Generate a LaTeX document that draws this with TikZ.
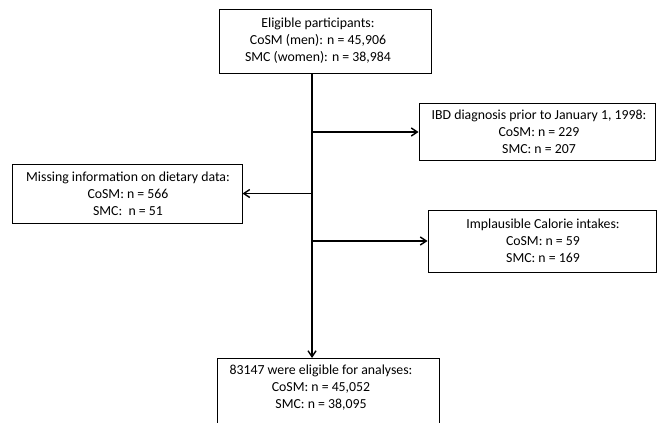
\documentclass[tikz,border=0pt]{standalone}
\usepackage{fontspec}
\setmainfont{Carlito}
\usetikzlibrary{arrows.meta}
\begin{document}
\begin{tikzpicture}[x=1pt,y=-1pt,
  box/.style={draw=black,line width=1pt,fill=white,inner sep=0pt},
  txt/.style={align=center,inner sep=0pt,font=\fontsize{13.8}{16.8}\selectfont},
  arr/.style={line width=1.6pt,-{Straight Barb[length=6pt,width=8pt,line width=1.4pt]}}]
\useasboundingbox (0,0) rectangle (657,423);
\clip (0,0) rectangle (657,423);
% boxes
\node[box,minimum width=212pt,minimum height=64pt] (top) at (325,41) {};
\node[box,minimum width=236pt,minimum height=57pt] (ibd) at (537,132) {};
\node[box,minimum width=230pt,minimum height=59pt] (miss) at (127,193.5) {};
\node[box,minimum width=228pt,minimum height=62pt] (impl) at (542,241) {};
\node[box,minimum width=222pt,minimum height=73pt] (fin) at (328,395) {};
% texts
\node[txt] (toptxt) at (318,40.5) {Eligible participants:\\CoSM (men): n = 45,906\\SMC (women): n = 38,984};
\node[txt] (ibdtxt) at (539,132) {IBD diagnosis prior to January 1, 1998:\\CoSM: n = 229\\SMC: n = 207};
\node[txt] (misstxt) at (128,194) {Missing information on dietary data:\\CoSM: n = 566\\SMC:\ \ n = 51};
\node[txt] (impltxt) at (543,241) {Implausible Calorie intakes:\\CoSM: n = 59\\SMC: n = 169};
\node[txt,anchor=north] (fintxt) at (321,365) {83147 were eligible for analyses:\\CoSM: n = 45,052\\SMC: n = 38,095};
\coordinate (trunk) at (312,0);
% connectors
\draw[arr] (top.south -| trunk) -- (fin.north -| trunk);
\draw[arr] (trunk |- ibd.west) -- (ibd.west);
\draw[arr] (trunk |- miss.east) -- (miss.east);
\draw[arr] (trunk |- impl.west) -- (impl.west);
\end{tikzpicture}
\end{document}
